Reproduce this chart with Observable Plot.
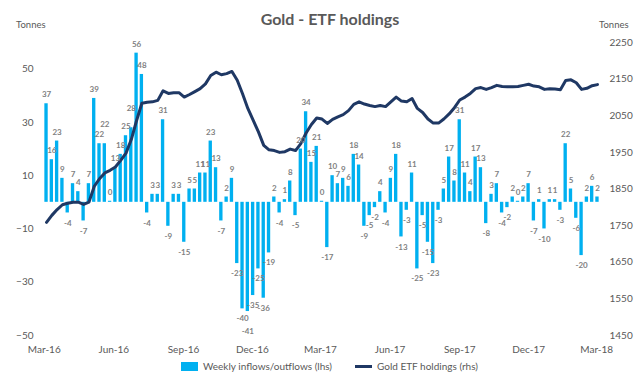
<!DOCTYPE html>
<html>
<head>
<meta charset="utf-8">
<script src="https://cdn.jsdelivr.net/npm/d3@7"></script>
<script src="https://cdn.jsdelivr.net/npm/@observablehq/plot@0.6"></script>
<style>
  html, body { margin: 0; padding: 0; background: #fff; }
  #wrap { position: relative; width: 640px; height: 383px; font-family: Lato, "Open Sans", sans-serif; color: #595959; overflow: hidden; }
  .title { position: absolute; top: 9px; left: 330px; transform: translateX(-50%); font-size: 16px; font-weight: bold; line-height: 20px; white-space: nowrap; color: #595959; }
  .unit { position: absolute; top: 19px; font-size: 9.5px; line-height: 12px; color: #595959; }
  #chart { position: absolute; left: 0; top: 30px; }
  .leg { position: absolute; font-size: 10px; line-height: 12px; color: #595959; white-space: nowrap; }
</style>
</head>
<body>
<div id="wrap">
  <div class="title">Gold - ETF holdings</div>
  <div class="unit" style="left:16px">Tonnes</div>
  <div class="unit" style="left:599px">Tonnes</div>
  <div id="chart"></div>
  <div class="leg" style="left:181px;top:362px;width:17px;height:9px;background:#00b0f0"></div>
  <div class="leg" style="left:203px;top:360px">Weekly inflows/outflows (lhs)</div>
  <div class="leg" style="left:355px;top:365px;width:17px;height:3px;background:#1f3864"></div>
  <div class="leg" style="left:377px;top:360px">Gold ETF holdings (rhs)</div>
</div>
<script>
// ---- data ----
const firstWeek = "2016-03-04";
const weeklyFlows = [
  37,16,23,9,-4,7,4,-7,7,39,
  22,22,0.4,13,18,25,28,56,48,-4,
  3,3,31,-9,3,3,-15,5,5,11,
  11,23,13,-7,2,9,-23,-40,-41,-35,
  -25,-36,-19,2,-4,1,8,-5,20,34,
  15,21,0.4,-17,10,7,9,6,18,14,
  -9,-5,-2,4,-4,9,18,-13,-3,11,
  -25,-5,-15,-23,-3,5,17,8,31,11,
  4,17,13,-8,3,7,-4,-2,2,0.4,
  2,7,-7,1,-10,1,1,-3,22,5,
  -6,-20,2,6,2
];
const etfHoldings = [
  1759,1778,1794,1807,1811,1814,1814,1808,1814,1857,
  1878,1894,1901,1910,1928,1948,1985,2037,2084,2087,
  2088,2092,2118,2111,2113,2113,2101,2108,2116,2124,
  2137,2160,2169,2162,2165,2171,2147,2110,2070,2038,
  2006,1969,1957,1955,1950,1952,1959,1955,1974,2003,
  2026,2044,2041,2029,2040,2047,2053,2064,2081,2088,
  2082,2078,2075,2078,2075,2088,2101,2090,2088,2097,
  2070,2059,2041,2030,2030,2041,2055,2072,2093,2101,
  2111,2124,2127,2122,2127,2133,2130,2129,2129,2130,
  2133,2136,2131,2129,2122,2124,2123,2121,2146,2148,
  2140,2122,2125,2132,2135
];
const leftTicks = [-50, -30, -10, 10, 30, 50];
const rightTicks = [1450, 1550, 1650, 1750, 1850, 1950, 2050, 2150, 2250];
const leftDomain = [-50, 60];
const rightDomain = [1450, 2250];

// ---- build table ----
const start = new Date(firstWeek + "T00:00:00Z");
const rows = weeklyFlows.map((f, i) => ({
  date: d3.utcDay.offset(start, 7 * i),
  flow: f,
  holdings: etfHoldings[i],
  label: String(Math.round(f)),
  bumped: false
}));
// push a label further out when it would collide with its neighbour's (large bars only)
rows.forEach((d, i) => {
  const p = rows[i - 1];
  if (p && !p.bumped && Math.sign(p.flow) === Math.sign(d.flow) &&
      Math.abs(p.flow - d.flow) <= 3 && Math.abs(d.flow) >= 15) d.bumped = true;
});
// map right-axis values onto the left scale
const toL = d3.scaleLinear().domain(rightDomain).range(leftDomain);
const xTicks = d3.utcMonth.range(new Date("2016-03-01T00:00:00Z"), new Date("2018-03-02T00:00:00Z"), 3);
const fmt = d3.utcFormat("%b-%y");
const lab = { x: "date", y: "flow", text: "label", fill: "#7f7f7f", fontWeight: "bold", fontSize: 8 };

const chart = Plot.plot({
  width: 640,
  height: 330,
  marginTop: 12,
  marginBottom: 25,
  marginLeft: 43,
  marginRight: 40,
  style: { fontFamily: "Lato, 'Open Sans', sans-serif", fontSize: "10px", color: "#595959", background: "transparent" },
  x: { type: "utc", domain: [new Date("2016-02-29T00:00:00Z"), new Date("2018-03-06T00:00:00Z")], label: null },
  y: { domain: leftDomain, label: null },
  marks: [
    Plot.rectY(rows, {
      x1: d => d3.utcHour.offset(d.date, -53),
      x2: d => d3.utcHour.offset(d.date, 53),
      y1: 0, y2: "flow",
      fill: "#00b0f0"
    }),
    Plot.lineY(rows, { x: "date", y: d => toL(d.holdings), stroke: "#1f3864", strokeWidth: 3, strokeLinejoin: "round" }),
    Plot.text(rows.filter(d => d.flow >= 0 && !d.bumped), { ...lab, dy: -9 }),
    Plot.text(rows.filter(d => d.flow >= 0 && d.bumped), { ...lab, dy: -19 }),
    Plot.text(rows.filter(d => d.flow < 0 && !d.bumped), { ...lab, dy: 10 }),
    Plot.text(rows.filter(d => d.flow < 0 && d.bumped), { ...lab, dy: 20 }),
    Plot.axisX({ ticks: xTicks, tickSize: 0, tickPadding: 10, tickFormat: fmt, fontSize: 10, label: null }),
    Plot.axisY({ ticks: leftTicks, anchor: "left", tickSize: 0, tickPadding: 10, fontSize: 10, label: null }),
    Plot.axisY({
      ticks: rightTicks.map(v => toL(v)),
      anchor: "right", tickSize: 0, tickPadding: 9, fontSize: 10, label: null,
      tickFormat: v => String(Math.round(toL.invert(v)))
    })
  ]
});
document.getElementById("chart").appendChild(chart);
</script>
</body>
</html>
